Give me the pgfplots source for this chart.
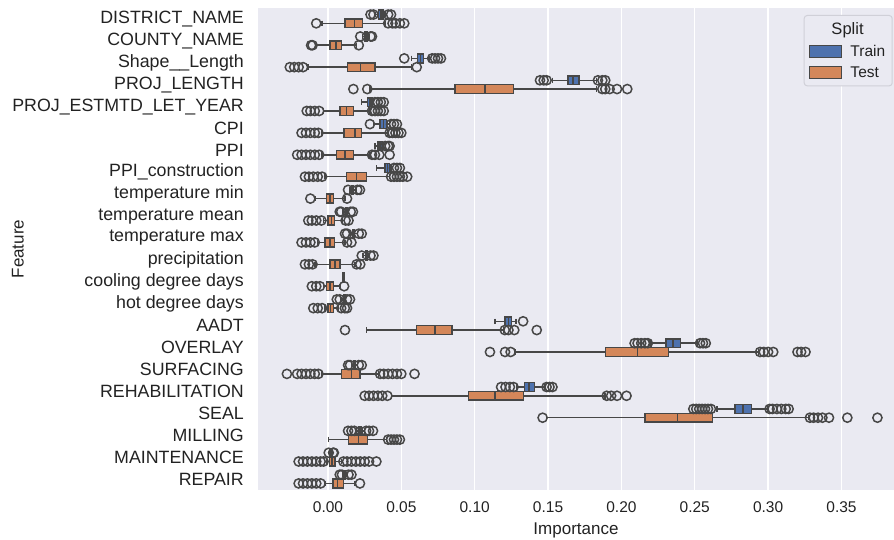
\documentclass[border=0pt]{standalone}
\usepackage{fontspec}
\setmainfont{Liberation Sans}
\usepackage{pgfplots}
\pgfplotsset{compat=1.18}
\usepgfplotslibrary{statistics}
\definecolor{bgc}{HTML}{EAEAF2}
\definecolor{trainc}{HTML}{4E72AE}
\definecolor{testc}{HTML}{D4875A}
\definecolor{edgec}{HTML}{474747}
\definecolor{textc}{HTML}{222222}
\definecolor{legedge}{HTML}{D0D0D8}
% #1 pos, #2 fill, #3 lower whisker, #4 q1, #5 median, #6 q3, #7 upper whisker
\newcommand{\bp}[7]{%
  \addplot[boxplot prepared={draw position=#1, lower whisker=#3, lower quartile=#4,
    median=#5, upper quartile=#6, upper whisker=#7, box extend=0.4, whisker extend=0.25,
    every box/.style={draw=edgec, fill=#2, line width=1.5pt},
    every whisker/.style={draw=edgec, line width=1.5pt},
    every median/.style={draw=edgec, line width=1.5pt}},
    fill=#2, draw=edgec, line width=1.5pt, forget plot] coordinates {};}
\newcommand{\ol}[1]{%
  \addplot[only marks, mark=o, mark size=4.6pt, mark options={draw=edgec, line width=1.5pt, fill=none}, forget plot] coordinates {#1};}
\begin{document}
\begin{tikzpicture}
\useasboundingbox (-258pt,-50pt) rectangle (636pt,490pt);
\begin{axis}[
  scale only axis, width=636pt, height=482pt,
  xmin=-0.0477, xmax=0.3858, ymin=-0.5, ymax=21.5, y dir=reverse,
  boxplot/draw direction=x,
  axis background/.style={fill=bgc},
  axis line style={draw=none}, major tick length=0pt,
  xmajorgrids, ymajorgrids=false, grid style={white, line width=1.3pt},
  xtick={0,0.05,0.10,0.15,0.20,0.25,0.30,0.35},
  xticklabel style={/pgf/number format/fixed, /pgf/number format/fixed zerofill, /pgf/number format/precision=2, /pgf/number format/assume math mode=true, font=\fontsize{15.5}{18}\selectfont, text=textc, anchor=center, yshift=-17pt},
  ytick={0,...,21},
  yticklabels={DISTRICT\_NAME, COUNTY\_NAME, Shape\_\_Length, PROJ\_LENGTH, PROJ\_ESTMTD\_LET\_YEAR, CPI, PPI, PPI\_construction, temperature min, temperature mean, temperature max, precipitation, cooling degree days, hot degree days, AADT, OVERLAY, SURFACING, REHABILITATION, SEAL, MILLING, MAINTENANCE, REPAIR},
  yticklabel style={font=\fontsize{17.8}{20}\selectfont, text=textc, anchor=east, inner sep=0pt, xshift=-14pt},
  xlabel={Importance}, ylabel={Feature},
  every axis x label/.style={at={(axis description cs:0.5,-0.083)}, anchor=center, font=\fontsize{17}{20}\selectfont, text=textc},
  every axis y label/.style={at={(axis description cs:-0.3774,0.5)}, rotate=90, anchor=center, font=\fontsize{17}{20}\selectfont, text=textc},
  legend style={at={(axis description cs:0.998,0.9855)}, anchor=north east, draw=legedge, fill=bgc, rounded corners=3pt, font=\fontsize{15.5}{18}\selectfont, text=textc, row sep=5pt, inner xsep=5pt, inner ysep=5pt, line width=1pt},
  legend cell align=left,
]
% 0 DISTRICT_NAME
\bp{-0.2}{trainc}{0.032}{0.0345}{0.036}{0.0375}{0.039}
\ol{(0.029,-0.2)(0.031,-0.2)(0.041,-0.2)(0.043,-0.2)}
\bp{0.2}{testc}{-0.004}{0.0116}{0.018}{0.0236}{0.039}
\ol{(-0.008,0.2)(0.041,0.2)(0.044,0.2)(0.046,0.2)(0.049,0.2)(0.052,0.2)}
% 1 COUNTY_NAME
\bp{0.8}{trainc}{0.0235}{0.025}{0.026}{0.027}{0.028}
\ol{(0.022,0.8)(0.029,0.8)(0.030,0.8)}
\bp{1.2}{testc}{-0.008}{0.0014}{0.0055}{0.0093}{0.0195}
\ol{(-0.0115,1.2)(-0.0105,1.2)(0.021,1.2)}
% 2 Shape__Length
\bp{1.8}{trainc}{0.057}{0.061}{0.063}{0.065}{0.069}
\ol{(0.052,1.8)(0.071,1.8)(0.073,1.8)(0.075,1.8)(0.077,1.8)}
\bp{2.2}{testc}{-0.0135}{0.0132}{0.0223}{0.032}{0.057}
\ol{(-0.026,2.2)(-0.023,2.2)(-0.020,2.2)(-0.017,2.2)(0.0605,2.2)}
% 3 PROJ_LENGTH
\bp{2.8}{trainc}{0.153}{0.1636}{0.167}{0.171}{0.183}
\ol{(0.1445,2.8)(0.147,2.8)(0.149,2.8)(0.184,2.8)(0.187,2.8)(0.189,2.8)}
\bp{3.2}{testc}{0.0286}{0.0866}{0.107}{0.1263}{0.183}
\ol{(0.0173,3.2)(0.0268,3.2)(0.187,3.2)(0.189,3.2)(0.192,3.2)(0.197,3.2)(0.204,3.2)}
% 4 PROJ_ESTMTD_LET_YEAR
\bp{3.8}{trainc}{0.023}{0.027}{0.0285}{0.030}{0.031}
\ol{(0.032,3.8)(0.034,3.8)(0.036,3.8)(0.038,3.8)}
\bp{4.2}{testc}{-0.003}{0.0082}{0.0127}{0.0173}{0.0286}
\ol{(-0.0145,4.2)(-0.012,4.2)(-0.009,4.2)(-0.006,4.2)(0.030,4.2)(0.032,4.2)(0.034,4.2)(0.036,4.2)(0.038,4.2)}
% 5 CPI
\bp{4.8}{trainc}{0.031}{0.0355}{0.038}{0.040}{0.042}
\ol{(0.0286,4.8)(0.043,4.8)(0.045,4.8)(0.047,4.8)}
\bp{5.2}{testc}{-0.004}{0.0109}{0.0184}{0.023}{0.041}
\ol{(-0.018,5.2)(-0.015,5.2)(-0.012,5.2)(-0.009,5.2)(-0.0065,5.2)(0.042,5.2)(0.044,5.2)(0.046,5.2)(0.048,5.2)(0.050,5.2)}
% 6 PPI
\bp{5.8}{trainc}{0.032}{0.034}{0.0355}{0.037}{0.038}
\ol{(0.039,5.8)(0.041,5.8)(0.042,5.8)}
\bp{6.2}{testc}{-0.004}{0.0059}{0.0116}{0.0173}{0.0286}
\ol{(-0.021,6.2)(-0.018,6.2)(-0.015,6.2)(-0.012,6.2)(-0.009,6.2)(-0.006,6.2)(0.030,6.2)(0.032,6.2)(0.035,6.2)(0.042,6.2)}
% 7 PPI_construction
\bp{6.8}{trainc}{0.033}{0.039}{0.0405}{0.042}{0.043}
\ol{(0.045,6.8)(0.047,6.8)(0.049,6.8)}
\bp{7.2}{testc}{-0.002}{0.0127}{0.0195}{0.0264}{0.042}
\ol{(-0.0157,7.2)(-0.013,7.2)(-0.010,7.2)(-0.007,7.2)(-0.004,7.2)(0.043,7.2)(0.045,7.2)(0.047,7.2)(0.049,7.2)(0.051,7.2)(0.054,7.2)}
% 8 temperature min
\bp{7.8}{trainc}{0.015}{0.0165}{0.017}{0.0175}{0.019}
\ol{(0.0137,7.8)(0.020,7.8)(0.0218,7.8)}
\bp{8.2}{testc}{-0.009}{-0.001}{0.0013}{0.0036}{0.0116}
\ol{(-0.012,8.2)(0.013,8.2)}
% 9 temperature mean
\bp{8.8}{trainc}{0.010}{0.012}{0.0125}{0.013}{0.014}
\ol{(0.008,8.8)(0.009,8.8)(0.0155,8.8)(0.017,8.8)}
\bp{9.2}{testc}{-0.003}{0.0}{0.0023}{0.0046}{0.010}
\ol{(-0.0134,9.2)(-0.011,9.2)(-0.008,9.2)(-0.0045,9.2)(0.012,9.2)(0.014,9.2)}
% 10 temperature max
\bp{9.8}{trainc}{0.015}{0.017}{0.0175}{0.018}{0.020}
\ol{(0.0116,9.8)(0.013,9.8)(0.021,9.8)(0.023,9.8)}
\bp{10.2}{testc}{-0.007}{-0.002}{0.0013}{0.0046}{0.0116}
\ol{(-0.018,10.2)(-0.015,10.2)(-0.012,10.2)(-0.009,10.2)(0.013,10.2)(0.016,10.2)}
% 11 precipitation
\bp{10.8}{trainc}{0.024}{0.026}{0.0265}{0.027}{0.028}
\ol{(0.023,10.8)(0.029,10.8)(0.031,10.8)}
\bp{11.2}{testc}{-0.009}{0.0014}{0.0048}{0.0082}{0.0184}
\ol{(-0.0157,11.2)(-0.013,11.2)(-0.0105,11.2)(0.0195,11.2)(0.022,11.2)}
% 12 cooling degree days
\bp{11.8}{trainc}{0.0098}{0.0102}{0.0105}{0.0108}{0.0112}
\bp{12.2}{testc}{-0.003}{-0.001}{0.0013}{0.0036}{0.0082}
\ol{(-0.011,12.2)(-0.008,12.2)(-0.0055,12.2)(0.011,12.2)}
% 13 hot degree days
\bp{12.8}{trainc}{0.009}{0.0105}{0.011}{0.0115}{0.012}
\ol{(0.006,12.8)(0.008,12.8)(0.013,12.8)(0.015,12.8)}
\bp{13.2}{testc}{-0.002}{0.0}{0.0018}{0.0036}{0.007}
\ol{(-0.010,13.2)(-0.007,13.2)(-0.004,13.2)(0.009,13.2)(0.0115,13.2)(0.013,13.2)}
% 14 AADT
\bp{13.8}{trainc}{0.1138}{0.1207}{0.123}{0.1252}{0.128}
\ol{(0.133,13.8)}
\bp{14.2}{testc}{0.0264}{0.0604}{0.073}{0.0847}{0.1195}
\ol{(0.0116,14.2)(0.1205,14.2)(0.123,14.2)(0.127,14.2)(0.1423,14.2)}
% 15 OVERLAY
\bp{14.8}{trainc}{0.2195}{0.2304}{0.235}{0.2404}{0.252}
\ol{(0.209,14.8)(0.211,14.8)(0.2135,14.8)(0.216,14.8)(0.218,14.8)(0.2536,14.8)(0.2556,14.8)(0.2575,14.8)}
\bp{15.2}{testc}{0.1275}{0.1893}{0.2109}{0.232}{0.2933}
\ol{(0.1104,15.2)(0.1207,15.2)(0.1245,15.2)(0.2945,15.2)(0.297,15.2)(0.300,15.2)(0.3035,15.2)(0.320,15.2)(0.3225,15.2)(0.3255,15.2)}
% 16 SURFACING
\bp{15.8}{trainc}{0.016}{0.0175}{0.018}{0.0185}{0.020}
\ol{(0.0137,15.8)(0.015,15.8)(0.021,15.8)(0.023,15.8)}
\bp{16.2}{testc}{-0.0043}{0.0093}{0.0161}{0.0218}{0.0343}
\ol{(-0.028,16.2)(-0.021,16.2)(-0.018,16.2)(-0.015,16.2)(-0.012,16.2)(-0.009,16.2)(-0.0065,16.2)(0.0355,16.2)(0.038,16.2)(0.041,16.2)(0.044,16.2)(0.047,16.2)(0.050,16.2)(0.059,16.2)}
% 17 REHABILITATION
\bp{16.8}{trainc}{0.129}{0.1339}{0.137}{0.1407}{0.148}
\ol{(0.118,16.8)(0.121,16.8)(0.124,16.8)(0.1265,16.8)(0.149,16.8)(0.151,16.8)(0.153,16.8)}
\bp{17.2}{testc}{0.0434}{0.0957}{0.1138}{0.1331}{0.1888}
\ol{(0.025,17.2)(0.028,17.2)(0.031,17.2)(0.034,17.2)(0.037,17.2)(0.0405,17.2)(0.190,17.2)(0.193,17.2)(0.197,17.2)(0.2035,17.2)}
% 18 SEAL
\bp{17.8}{trainc}{0.265}{0.2774}{0.283}{0.2888}{0.300}
\ol{(0.249,17.8)(0.251,17.8)(0.253,17.8)(0.255,17.8)(0.257,17.8)(0.259,17.8)(0.261,17.8)(0.301,17.8)(0.303,17.8)(0.306,17.8)(0.309,17.8)(0.312,17.8)(0.314,17.8)}
\bp{18.2}{testc}{0.149}{0.2161}{0.2381}{0.262}{0.3275}
\ol{(0.1463,18.2)(0.3285,18.2)(0.331,18.2)(0.334,18.2)(0.337,18.2)(0.3415,18.2)(0.354,18.2)(0.3745,18.2)}
% 19 MILLING
\bp{18.8}{trainc}{0.019}{0.021}{0.022}{0.023}{0.025}
\ol{(0.0137,18.8)(0.016,18.8)(0.018,18.8)(0.026,18.8)(0.028,18.8)(0.0307,18.8)}
\bp{19.2}{testc}{0.0002}{0.0139}{0.0207}{0.0268}{0.040}
\ol{(0.041,19.2)(0.043,19.2)(0.045,19.2)(0.047,19.2)(0.049,19.2)}
% 20 MAINTENANCE
\bp{19.8}{trainc}{0.001}{0.0015}{0.002}{0.0025}{0.003}
\ol{(0.0005,19.8)(0.0035,19.8)(0.004,19.8)}
\bp{20.2}{testc}{-0.001}{0.0009}{0.0027}{0.0048}{0.0093}
\ol{(-0.020,20.2)(-0.017,20.2)(-0.014,20.2)(-0.011,20.2)(-0.008,20.2)(-0.005,20.2)(-0.003,20.2)(0.0105,20.2)(0.013,20.2)(0.016,20.2)(0.019,20.2)(0.022,20.2)(0.025,20.2)(0.028,20.2)(0.033,20.2)}
% 21 REPAIR
\bp{20.8}{trainc}{0.010}{0.011}{0.0115}{0.012}{0.013}
\ol{(0.008,20.8)(0.0095,20.8)(0.014,20.8)(0.016,20.8)}
\bp{21.2}{testc}{-0.002}{0.0035}{0.0064}{0.0105}{0.0184}
\ol{(-0.020,21.2)(-0.017,21.2)(-0.014,21.2)(-0.011,21.2)(-0.008,21.2)(-0.005,21.2)(0.0218,21.2)}
% legend
\addlegendimage{empty legend}
\addlegendentry{\hspace*{-13pt}\fontsize{16.5}{18}\selectfont Split}
\addlegendimage{legend image code/.code={\draw[sharp corners, draw=edgec, line width=1.3pt, fill=trainc] (0pt,-6pt) rectangle (32pt,6pt);}}
\addlegendentry{\hspace*{6pt}Train}
\addlegendimage{legend image code/.code={\draw[sharp corners, draw=edgec, line width=1.3pt, fill=testc] (0pt,-6pt) rectangle (32pt,6pt);}}
\addlegendentry{\hspace*{6pt}Test}
\end{axis}
\end{tikzpicture}
\end{document}
